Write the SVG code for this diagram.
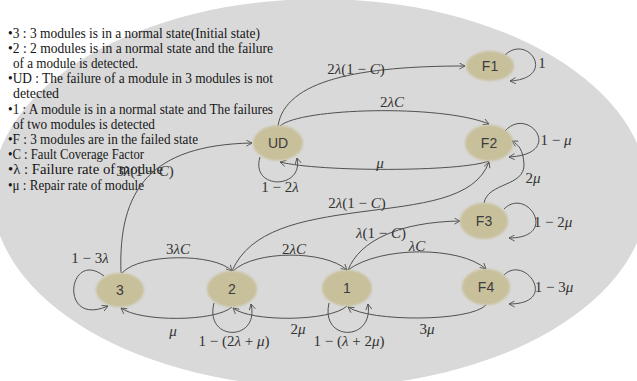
<svg xmlns="http://www.w3.org/2000/svg" width="637" height="381" viewBox="0 0 637 381">
<defs>
<style>
.e{fill:none;stroke:#505050;stroke-width:1;marker-end:url(#ah)}
.n{fill:#c8c09b;filter:url(#soft)}
.nt{font-family:"Liberation Sans",Arial,sans-serif;font-size:14px;fill:#3c3c3c;text-anchor:middle}
.lb{font-family:"Liberation Serif","Times New Roman",serif;font-size:15px;fill:#333;text-anchor:middle}
.i{font-style:italic}
.tx{font-family:"Liberation Serif","Times New Roman",serif;font-size:14px;fill:#161616}
</style>
<marker id="ah" viewBox="0 0 8 8" refX="7" refY="4" markerWidth="7" markerHeight="7" markerUnits="userSpaceOnUse" orient="auto">
<path d="M0.5,0.5 L7,4 L0.5,7.5" fill="none" stroke="#505050" stroke-width="1"/>
</marker>
<filter id="soft" x="-20%" y="-20%" width="140%" height="140%"><feGaussianBlur stdDeviation="0.8"/></filter>
</defs>
<rect width="637" height="381" fill="#ffffff"/>
<ellipse cx="320" cy="193" rx="328" ry="194" fill="#d9d9d9"/>

<g id="legend">
<text class="tx" x="8" y="37.5" textLength="252" lengthAdjust="spacingAndGlyphs">•3 : 3 modules is in a normal state(Initial state)</text>
<text class="tx" x="8" y="52.7" textLength="265" lengthAdjust="spacingAndGlyphs">•2 : 2 modules is in a normal state and the failure</text>
<text class="tx" x="13" y="67.9" textLength="125" lengthAdjust="spacingAndGlyphs">of a module is detected.</text>
<text class="tx" x="8" y="83.1" textLength="265" lengthAdjust="spacingAndGlyphs">•UD : The failure of a module in 3 modules is  not</text>
<text class="tx" x="13" y="98.3" textLength="46" lengthAdjust="spacingAndGlyphs">detected</text>
<text class="tx" x="8" y="113.5" textLength="265" lengthAdjust="spacingAndGlyphs">•1 : A module is in a normal state and The failures</text>
<text class="tx" x="13" y="128.7" textLength="142" lengthAdjust="spacingAndGlyphs">of two modules is detected</text>
<text class="tx" x="8" y="143.9" textLength="190" lengthAdjust="spacingAndGlyphs">•F : 3 modules are in the failed state</text>
<text class="tx" x="8" y="159.1" textLength="136" lengthAdjust="spacingAndGlyphs">•C : Fault Coverage Factor</text>
<text class="tx" x="8" y="174.3" textLength="155" lengthAdjust="spacingAndGlyphs">•λ :  Failure rate of module</text>
<text class="tx" x="8" y="189.5" textLength="136" lengthAdjust="spacingAndGlyphs">•μ : Repair rate of module</text>
</g>

<g id="connectors">
<path class="e" d="M121,273 C118,190 150,145 252,143"/>
<path class="e" d="M278,126 C285,80 360,66 465,66"/>
<path class="e" d="M280,126 C300,108 440,104 489,124"/>
<path class="e" d="M489,161 C460,172 320,172 280,162"/>
<path class="e" d="M232,271 C250,230 300,220 360,212 S475,200 489,162"/>
<path class="e" d="M260,157 C250,190 304,190 297,158"/>
<path class="e" d="M505,55 C528,33 558,78 510,81"/>
<path class="e" d="M505,131 C528,105 566,154 509,157"/>
<path class="e" d="M484,203 C488,182 525,187 524,164 C523,150 519,145 512,141"/>
<path class="e" d="M504,209 C527,186 560,238 509,238"/>
<path class="e" d="M504,275 C525,254 560,304 509,304"/>
<path class="e" d="M104,276 C68,248 58,328 108,306"/>
<path class="e" d="M214,303 C204,342 260,342 251,304"/>
<path class="e" d="M329,303 C320,342 374,342 368,304"/>
<path class="e" d="M122,273 C140,253 215,253 232,271"/>
<path class="e" d="M233,271 C255,250 325,250 347,270"/>
<path class="e" d="M348,270 C380,246 460,246 486,269"/>
<path class="e" d="M348,270 C360,240 400,222 460,221"/>
<path class="e" d="M232,307 C215,322 140,322 121,308"/>
<path class="e" d="M347,306 C330,322 250,322 233,308"/>
<path class="e" d="M486,305 C470,322 370,322 348,307"/>
</g>

<g id="labels">
<text class="lb" x="145" y="176">3<tspan class="i">λ</tspan>(1 − <tspan class="i">C</tspan>)</text>
<text class="lb" x="356" y="74">2<tspan class="i">λ</tspan>(1 − <tspan class="i">C</tspan>)</text>
<text class="lb" x="392" y="107">2<tspan class="i">λC</tspan></text>
<text class="lb" x="380" y="168"><tspan class="i">μ</tspan></text>
<text class="lb" x="280" y="192">1 − 2<tspan class="i">λ</tspan></text>
<text class="lb" x="542" y="68">1</text>
<text class="lb" x="556" y="145">1 − <tspan class="i">μ</tspan></text>
<text class="lb" x="533" y="183">2<tspan class="i">μ</tspan></text>
<text class="lb" x="553" y="227">1 − 2<tspan class="i">μ</tspan></text>
<text class="lb" x="554" y="292">1 − 3<tspan class="i">μ</tspan></text>
<text class="lb" x="417" y="251"><tspan class="i">λC</tspan></text>
<text class="lb" x="381" y="238"><tspan class="i">λ</tspan>(1 − <tspan class="i">C</tspan>)</text>
<text class="lb" x="357" y="208">2<tspan class="i">λ</tspan>(1 − <tspan class="i">C</tspan>)</text>
<text class="lb" x="427" y="334">3<tspan class="i">μ</tspan></text>
<text class="lb" x="349" y="346">1 − (<tspan class="i">λ</tspan> + 2<tspan class="i">μ</tspan>)</text>
<text class="lb" x="298" y="334">2<tspan class="i">μ</tspan></text>
<text class="lb" x="234" y="346">1 − (2<tspan class="i">λ</tspan> + <tspan class="i">μ</tspan>)</text>
<text class="lb" x="173" y="336"><tspan class="i">μ</tspan></text>
<text class="lb" x="178" y="254">3<tspan class="i">λC</tspan></text>
<text class="lb" x="294" y="254">2<tspan class="i">λC</tspan></text>
<text class="lb" x="90" y="263">1 − 3<tspan class="i">λ</tspan></text>
</g>

<g id="node-UD"><ellipse class="n" cx="278" cy="143" rx="25" ry="17.5"/><text class="nt" x="278" y="148">UD</text></g>
<g id="node-F1"><ellipse class="n" cx="490" cy="66" rx="24" ry="15"/><text class="nt" x="490" y="71">F1</text></g>
<g id="node-F2"><ellipse class="n" cx="489" cy="143" rx="24" ry="18"/><text class="nt" x="489" y="148">F2</text></g>
<g id="node-F3"><ellipse class="n" cx="484" cy="221" rx="24" ry="18"/><text class="nt" x="484" y="226">F3</text></g>
<g id="node-F4"><ellipse class="n" cx="486" cy="287" rx="24" ry="18"/><text class="nt" x="486" y="292">F4</text></g>
<g id="node-3"><ellipse class="n" cx="120" cy="290" rx="24" ry="17"/><text class="nt" x="120" y="295">3</text></g>
<g id="node-2"><ellipse class="n" cx="232" cy="289" rx="25" ry="18"/><text class="nt" x="232" y="294">2</text></g>
<g id="node-1"><ellipse class="n" cx="347" cy="288" rx="25" ry="18"/><text class="nt" x="347" y="293">1</text></g>
</svg>
